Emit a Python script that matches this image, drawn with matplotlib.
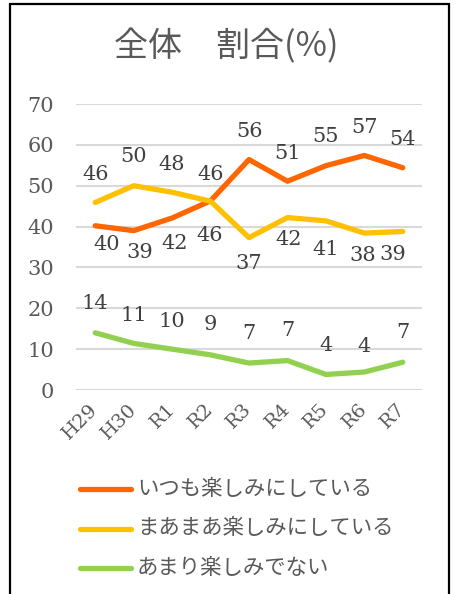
import matplotlib
matplotlib.use("Agg")
import matplotlib.pyplot as plt
from matplotlib.patches import Rectangle

categories = ["H29", "H30", "R1", "R2", "R3", "R4", "R5", "R6", "R7"]
series_names = ["いつも楽しみにしている", "まあまあ楽しみにしている", "あまり楽しみでない"]
always = [40.2, 39.0, 42.1, 46.3, 56.4, 51.1, 54.9, 57.4, 54.4]
fairly = [45.9, 50.0, 48.4, 46.2, 37.3, 42.2, 41.4, 38.4, 38.8]
rarely = [14.0, 11.4, 10.0, 8.6, 6.6, 7.2, 3.8, 4.4, 6.8]
colors = ["#FF6600", "#FFC000", "#92D050"]
yticks = [0, 10, 20, 30, 40, 50, 60, 70]

# data-label placement (pixel offsets from the point: dx, dy up)
always_lbl = [(11, -17), (6, -20), (3, -24), (-1, -33), (0, 30), (0, 30), (0, 31), (0, 30), (0, 30)]
fairly_lbl = [(0, 30), (0, 31), (0, 30), (0, 29), (0, -24), (1, -20), (0, -27), (-2, -20), (-10, -21)]
rarely_lbl = [(0, 31), (0, 30), (0, 30), (0, 32), (0, 32), (0, 32), (0, 31), (0, 28), (0, 32)]

W, H = 457, 594
fig = plt.figure(figsize=(W / 100, H / 100), dpi=100)
num_font = ["DejaVu Serif"]
jp_font = ["Noto Sans CJK JP", "DejaVu Sans"]

ax = fig.add_axes([76 / W, 1 - 390 / H, (422 - 76) / W, (390 - 104) / H])
x = list(range(len(categories)))
data = [always, fairly, rarely]
for vals, c, name in zip(data, colors, series_names):
    ax.plot(x, vals, color=c, lw=3.8, solid_capstyle="round", solid_joinstyle="round", label=name)

for vals, offs in zip(data, [always_lbl, fairly_lbl, rarely_lbl]):
    for i, (v, (dx, dy)) in enumerate(zip(vals, offs)):
        ax.annotate(f"{round(v)}", (i, v), xytext=(dx, dy - 7.5), textcoords="offset pixels",
                    ha="center", va="baseline", fontsize=15, color="#404040", family=num_font)

ax.set_xlim(-0.5, len(categories) - 0.5)
ax.set_ylim(0, 70)
ax.set_yticks(yticks)
ax.set_yticklabels([str(t) for t in yticks], family=num_font, fontsize=15, color="#595959")
ax.set_xticks(x)
ax.set_xticklabels(categories, rotation=45, ha="right", va="center", rotation_mode="anchor",
                   family=num_font, fontsize=14, color="#595959")
ax.tick_params(length=0, pad=16, axis="y")
ax.tick_params(length=0, pad=12, axis="x")
ax.grid(axis="y", color="#D9D9D9", lw=1.5)
ax.set_axisbelow(True)
for s in ax.spines.values():
    s.set_visible(False)

fig.text(226 / W, 1 - 46.5 / H, "全体　割合(%)", ha="center", va="center",
         fontsize=24.5, color="#595959", family=jp_font)

# legend
for k, (name, c) in enumerate(zip(series_names, colors)):
    yy = 1 - (489 + 39.5 * k) / H
    fig.add_artist(plt.Line2D([80 / W, 131 / W], [yy, yy], color=c, lw=3.8,
                              solid_capstyle="round", transform=fig.transFigure))
    fig.text(137 / W, yy, name, ha="left", va="center", fontsize=15.4,
             color="#595959", family=jp_font)

fig.add_artist(Rectangle((10 / W, -0.05), (449 - 10) / W, 1.05 - 4 / H,
                         transform=fig.transFigure, fill=False, edgecolor="black", lw=1.6))

fig.savefig("out.png", dpi=100)
